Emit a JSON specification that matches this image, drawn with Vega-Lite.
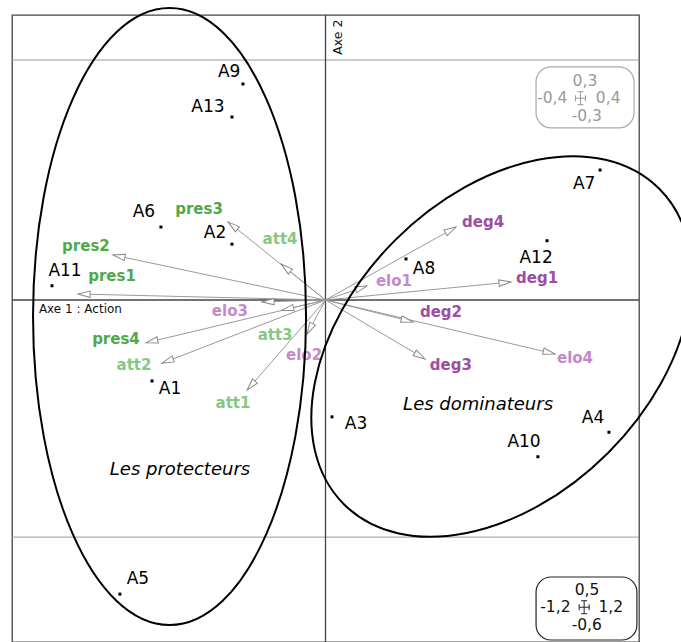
{
  "$schema": "https://vega.github.io/schema/vega-lite/v6.json",
  "width": 627,
  "height": 627,
  "autosize": {"type": "none"},
  "padding": {"left": 12, "top": 15, "right": 42, "bottom": 0},
  "background": "white",
  "config": {"view": {"stroke": "#444", "strokeWidth": 1.3}},
  "datasets": {
    "individus": [
      {"id": "A1", "x": -0.664, "y": -0.142, "lx": -0.595, "ly": -0.156},
      {"id": "A2", "x": -0.358, "y": 0.098, "lx": -0.423, "ly": 0.118},
      {"id": "A3", "x": 0.025, "y": -0.205, "lx": 0.117, "ly": -0.2175},
      {"id": "A4", "x": 1.085, "y": -0.232, "lx": 1.024, "ly": -0.207},
      {"id": "A5", "x": -0.787, "y": -0.516, "lx": -0.718, "ly": -0.4895},
      {"id": "A6", "x": -0.63, "y": 0.128, "lx": -0.695, "ly": 0.154},
      {"id": "A7", "x": 1.051, "y": 0.228, "lx": 0.99, "ly": 0.2035},
      {"id": "A8", "x": 0.308, "y": 0.072, "lx": 0.377, "ly": 0.054},
      {"id": "A9", "x": -0.316, "y": 0.379, "lx": -0.369, "ly": 0.4},
      {"id": "A10", "x": 0.813, "y": -0.275, "lx": 0.76, "ly": -0.249},
      {"id": "A11", "x": -1.047, "y": 0.025, "lx": -0.997, "ly": 0.051},
      {"id": "A12", "x": 0.848, "y": 0.104, "lx": 0.806, "ly": 0.074},
      {"id": "A13", "x": -0.358, "y": 0.321, "lx": -0.45, "ly": 0.339}
    ],
    "variables": [
      {"name": "pres1", "family": "pres", "ax": -0.947, "ay": 0.0105, "lx": -0.817, "ly": 0.042},
      {"name": "pres2", "family": "pres", "ax": -0.813, "ay": 0.079, "lx": -0.917, "ly": 0.095},
      {"name": "pres3", "family": "pres", "ax": -0.373, "ay": 0.137, "lx": -0.484, "ly": 0.16},
      {"name": "pres4", "family": "pres", "ax": -0.687, "ay": -0.075, "lx": -0.802, "ly": -0.068},
      {"name": "att1", "family": "att", "ax": -0.3, "ay": -0.158, "lx": -0.354, "ly": -0.181},
      {"name": "att2", "family": "att", "ax": -0.626, "ay": -0.111, "lx": -0.733, "ly": -0.114},
      {"name": "att3", "family": "att", "ax": -0.167, "ay": -0.018, "lx": -0.193, "ly": -0.061},
      {"name": "att4", "family": "att", "ax": -0.17, "ay": 0.063, "lx": -0.174, "ly": 0.107},
      {"name": "elo1", "family": "elo", "ax": 0.159, "ay": 0.0246, "lx": 0.262, "ly": 0.033},
      {"name": "elo2", "family": "elo", "ax": -0.071, "ay": -0.06, "lx": -0.082, "ly": -0.0965},
      {"name": "elo3", "family": "elo", "ax": -0.243, "ay": -0.0035, "lx": -0.366, "ly": -0.019},
      {"name": "elo4", "family": "elo", "ax": 0.8785, "ay": -0.0947, "lx": 0.955, "ly": -0.102},
      {"name": "deg1", "family": "deg", "ax": 0.71, "ay": 0.0316, "lx": 0.81, "ly": 0.039},
      {"name": "deg2", "family": "deg", "ax": 0.335, "ay": -0.0386, "lx": 0.442, "ly": -0.021},
      {"name": "deg3", "family": "deg", "ax": 0.381, "ay": -0.1035, "lx": 0.48, "ly": -0.114},
      {"name": "deg4", "family": "deg", "ax": 0.4995, "ay": 0.128, "lx": 0.603, "ly": 0.137}
    ],
    "legendText": [
      {"t": "0,3", "x": 0.993, "y": 0.384, "box": "var"},
      {"t": "-0,4", "x": 0.868, "y": 0.354, "box": "var"},
      {"t": "0,4", "x": 1.082, "y": 0.354, "box": "var"},
      {"t": "-0,3", "x": 1.0, "y": 0.323, "box": "var"},
      {"t": "0,5", "x": 1.001, "y": -0.509, "box": "ind"},
      {"t": "-1,2", "x": 0.88, "y": -0.539, "box": "ind"},
      {"t": "1,2", "x": 1.092, "y": -0.539, "box": "ind"},
      {"t": "-0,6", "x": 1.0, "y": -0.57, "box": "ind"}
    ]
  },
  "layer": [
    {
      "data": {"values": [{"v": 0.421}, {"v": -0.416}]},
      "mark": {"type": "rule", "color": "#9a9a9a", "strokeWidth": 1},
      "encoding": {
        "y": {"field": "v", "type": "quantitative", "scale": {"domain": [-0.6, 0.5], "nice": false, "zero": false}, "axis": null}
      }
    },
    {
      "data": {"values": [{"v": 0}]},
      "mark": {"type": "rule", "color": "#444", "strokeWidth": 1.3},
      "encoding": {
        "y": {"field": "v", "type": "quantitative", "scale": {"domain": [-0.6, 0.5], "nice": false, "zero": false}, "axis": null}
      }
    },
    {
      "data": {"values": [{"v": 0}]},
      "mark": {"type": "rule", "color": "#444", "strokeWidth": 1.3},
      "encoding": {
        "x": {"field": "v", "type": "quantitative", "scale": {"domain": [-1.2, 1.2], "nice": false, "zero": false}, "axis": null}
      }
    },
    {
      "data": {"name": "variables"},
      "mark": {"type": "rule", "color": "#9a9a9a", "strokeWidth": 1},
      "encoding": {
        "x": {"field": "ax", "type": "quantitative", "scale": {"domain": [-1.2, 1.2], "nice": false, "zero": false}, "axis": null},
        "y": {"field": "ay", "type": "quantitative", "scale": {"domain": [-0.6, 0.5], "nice": false, "zero": false}, "axis": null},
        "x2": {"datum": 0},
        "y2": {"datum": 0}
      }
    },
    {
      "data": {"name": "variables"},
      "transform": [{"calculate": "atan2(datum.ax * 261.25, datum.ay * 570) * 180 / PI", "as": "ang"}],
      "mark": {"type": "point", "shape": "M0,0L-3.2,12L3.2,12Z", "size": 4, "filled": true, "fill": "white", "stroke": "#8a8a8a", "strokeWidth": 1, "opacity": 1},
      "encoding": {
        "x": {"field": "ax", "type": "quantitative", "scale": {"domain": [-1.2, 1.2], "nice": false, "zero": false}, "axis": null},
        "y": {"field": "ay", "type": "quantitative", "scale": {"domain": [-0.6, 0.5], "nice": false, "zero": false}, "axis": null},
        "angle": {"field": "ang", "type": "quantitative", "scale": null}
      }
    },
    {
      "data": {"name": "variables"},
      "mark": {"type": "text", "font": "DejaVu Sans", "fontWeight": "bold", "fontSize": 15, "align": "center", "baseline": "middle"},
      "encoding": {
        "x": {"field": "lx", "type": "quantitative", "scale": {"domain": [-1.2, 1.2], "nice": false, "zero": false}, "axis": null},
        "y": {"field": "ly", "type": "quantitative", "scale": {"domain": [-0.6, 0.5], "nice": false, "zero": false}, "axis": null},
        "text": {"field": "name"},
        "color": {"field": "family", "type": "nominal", "scale": {"domain": ["pres", "att", "deg", "elo"], "range": ["#4fa94b", "#86c882", "#9c4ea3", "#c28ac7"]}, "legend": null}
      }
    },
    {
      "data": {"name": "individus"},
      "mark": {"type": "point", "shape": "square", "size": 9, "filled": true, "color": "black", "opacity": 1},
      "encoding": {
        "x": {"field": "x", "type": "quantitative", "scale": {"domain": [-1.2, 1.2], "nice": false, "zero": false}, "axis": null},
        "y": {"field": "y", "type": "quantitative", "scale": {"domain": [-0.6, 0.5], "nice": false, "zero": false}, "axis": null}
      }
    },
    {
      "data": {"name": "individus"},
      "mark": {"type": "text", "font": "DejaVu Sans", "fontSize": 17, "align": "center", "baseline": "middle", "color": "black"},
      "encoding": {
        "x": {"field": "lx", "type": "quantitative", "scale": {"domain": [-1.2, 1.2], "nice": false, "zero": false}, "axis": null},
        "y": {"field": "ly", "type": "quantitative", "scale": {"domain": [-0.6, 0.5], "nice": false, "zero": false}, "axis": null},
        "text": {"field": "id"}
      }
    },
    {
      "data": {"values": [{"group": "Les protecteurs", "cx": -0.597, "cy": -0.029}]},
      "mark": {"type": "point", "shape": "M-136.5,0A136.5,308.5 0 1,0 136.5,0A136.5,308.5 0 1,0 -136.5,0Z", "size": 4, "filled": false, "color": "black", "strokeWidth": 2, "opacity": 1},
      "encoding": {
        "x": {"field": "cx", "type": "quantitative", "scale": {"domain": [-1.2, 1.2], "nice": false, "zero": false}, "axis": null},
        "y": {"field": "cy", "type": "quantitative", "scale": {"domain": [-0.6, 0.5], "nice": false, "zero": false}, "axis": null}
      }
    },
    {
      "data": {"values": [{"group": "Les dominateurs", "cx": 0.674, "cy": -0.0816}]},
      "mark": {"type": "point", "shape": "M-223,0A223,150.5 0 1,0 223,0A223,150.5 0 1,0 -223,0Z", "size": 4, "angle": -45, "filled": false, "color": "black", "strokeWidth": 2, "opacity": 1},
      "encoding": {
        "x": {"field": "cx", "type": "quantitative", "scale": {"domain": [-1.2, 1.2], "nice": false, "zero": false}, "axis": null},
        "y": {"field": "cy", "type": "quantitative", "scale": {"domain": [-0.6, 0.5], "nice": false, "zero": false}, "axis": null}
      }
    },
    {
      "data": {"values": [{"t": "Les protecteurs", "x": -0.557, "y": -0.298}, {"t": "Les dominateurs", "x": 0.584, "y": -0.184}]},
      "mark": {"type": "text", "font": "DejaVu Sans", "fontStyle": "italic", "fontSize": 18, "align": "center", "baseline": "middle", "color": "black"},
      "encoding": {
        "x": {"field": "x", "type": "quantitative", "scale": {"domain": [-1.2, 1.2], "nice": false, "zero": false}, "axis": null},
        "y": {"field": "y", "type": "quantitative", "scale": {"domain": [-0.6, 0.5], "nice": false, "zero": false}, "axis": null},
        "text": {"field": "t"}
      }
    },
    {
      "data": {"values": [{"t": "Axe 1 : Action", "x": -1.097, "y": -0.016}]},
      "mark": {"type": "text", "font": "DejaVu Sans", "fontSize": 12, "align": "left", "baseline": "middle", "color": "#111"},
      "encoding": {
        "x": {"field": "x", "type": "quantitative", "scale": {"domain": [-1.2, 1.2], "nice": false, "zero": false}, "axis": null},
        "y": {"field": "y", "type": "quantitative", "scale": {"domain": [-0.6, 0.5], "nice": false, "zero": false}, "axis": null},
        "text": {"field": "t"}
      }
    },
    {
      "data": {"values": [{"t": "Axe 2", "x": 0.048, "y": 0.461}]},
      "mark": {"type": "text", "font": "DejaVu Sans", "fontSize": 12.5, "align": "center", "baseline": "middle", "angle": 270, "color": "#111"},
      "encoding": {
        "x": {"field": "x", "type": "quantitative", "scale": {"domain": [-1.2, 1.2], "nice": false, "zero": false}, "axis": null},
        "y": {"field": "y", "type": "quantitative", "scale": {"domain": [-0.6, 0.5], "nice": false, "zero": false}, "axis": null},
        "text": {"field": "t"}
      }
    },
    {
      "data": {"values": [{"x1": 0.806, "x2": 1.181, "y1": 0.409, "y2": 0.302}]},
      "mark": {"type": "rect", "cornerRadius": 15, "fill": "white", "stroke": "#aaaaaa", "strokeWidth": 1.2},
      "encoding": {
        "x": {"field": "x1", "type": "quantitative", "scale": {"domain": [-1.2, 1.2], "nice": false, "zero": false}, "axis": null},
        "x2": {"field": "x2"},
        "y": {"field": "y1", "type": "quantitative", "scale": {"domain": [-0.6, 0.5], "nice": false, "zero": false}, "axis": null},
        "y2": {"field": "y2"}
      }
    },
    {
      "data": {"values": [{"x1": 0.806, "x2": 1.192, "y1": -0.486, "y2": -0.5965}]},
      "mark": {"type": "rect", "cornerRadius": 15, "fill": "white", "stroke": "#222222", "strokeWidth": 1.2},
      "encoding": {
        "x": {"field": "x1", "type": "quantitative", "scale": {"domain": [-1.2, 1.2], "nice": false, "zero": false}, "axis": null},
        "x2": {"field": "x2"},
        "y": {"field": "y1", "type": "quantitative", "scale": {"domain": [-0.6, 0.5], "nice": false, "zero": false}, "axis": null},
        "y2": {"field": "y2"}
      }
    },
    {
      "data": {"name": "legendText"},
      "transform": [{"filter": "datum.box == 'var'"}],
      "mark": {"type": "text", "font": "DejaVu Sans", "fontSize": 15.5, "align": "center", "baseline": "middle", "color": "#999999"},
      "encoding": {
        "x": {"field": "x", "type": "quantitative", "scale": {"domain": [-1.2, 1.2], "nice": false, "zero": false}, "axis": null},
        "y": {"field": "y", "type": "quantitative", "scale": {"domain": [-0.6, 0.5], "nice": false, "zero": false}, "axis": null},
        "text": {"field": "t"}
      }
    },
    {
      "data": {"name": "legendText"},
      "transform": [{"filter": "datum.box == 'ind'"}],
      "mark": {"type": "text", "font": "DejaVu Sans", "fontSize": 15.5, "align": "center", "baseline": "middle", "color": "#111111"},
      "encoding": {
        "x": {"field": "x", "type": "quantitative", "scale": {"domain": [-1.2, 1.2], "nice": false, "zero": false}, "axis": null},
        "y": {"field": "y", "type": "quantitative", "scale": {"domain": [-0.6, 0.5], "nice": false, "zero": false}, "axis": null},
        "text": {"field": "t"}
      }
    },
    {
      "data": {"values": [{"x": 0.976, "y": 0.354}]},
      "mark": {"type": "point", "shape": "M-5,0L5,0M0,-6.5L0,6.5M-5,-3L-5,3M5,-3L5,3M-3,-6.5L3,-6.5M-3,6.5L3,6.5", "size": 4, "filled": false, "color": "#999999", "strokeWidth": 1, "opacity": 1},
      "encoding": {
        "x": {"field": "x", "type": "quantitative", "scale": {"domain": [-1.2, 1.2], "nice": false, "zero": false}, "axis": null},
        "y": {"field": "y", "type": "quantitative", "scale": {"domain": [-0.6, 0.5], "nice": false, "zero": false}, "axis": null}
      }
    },
    {
      "data": {"values": [{"x": 0.99, "y": -0.539}]},
      "mark": {"type": "point", "shape": "M-5,0L5,0M0,-6.5L0,6.5M-5,-3L-5,3M5,-3L5,3M-3,-6.5L3,-6.5M-3,6.5L3,6.5", "size": 4, "filled": false, "color": "#222222", "strokeWidth": 1, "opacity": 1},
      "encoding": {
        "x": {"field": "x", "type": "quantitative", "scale": {"domain": [-1.2, 1.2], "nice": false, "zero": false}, "axis": null},
        "y": {"field": "y", "type": "quantitative", "scale": {"domain": [-0.6, 0.5], "nice": false, "zero": false}, "axis": null}
      }
    }
  ]
}
